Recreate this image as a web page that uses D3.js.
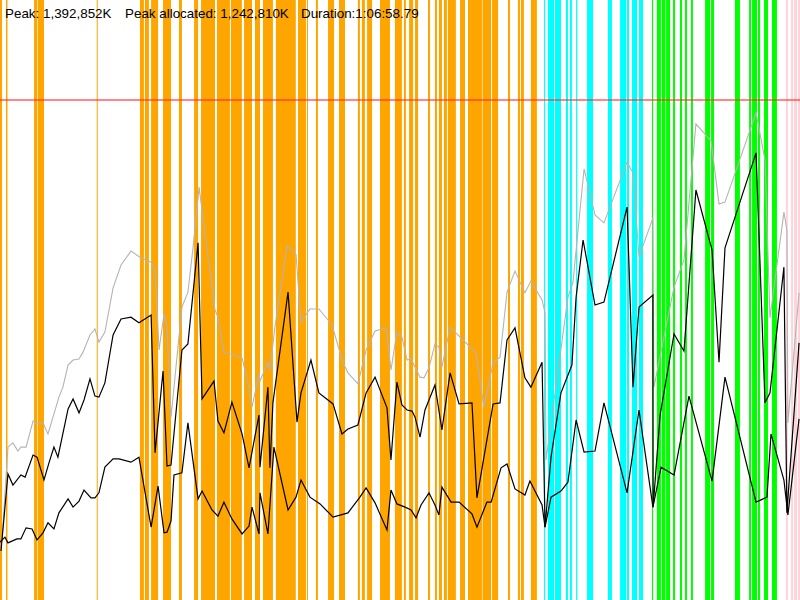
<!DOCTYPE html>
<html>
<head>
<meta charset="utf-8">
<script src="https://cdn.jsdelivr.net/npm/d3@7"></script>
<style>
  body { margin: 0; background: #fff; }
  svg { display: block; }
</style>
</head>
<body>
<div id="chart"></div>
<script>
const WIDTH = 800;
const HEIGHT = 600;

// run length in seconds (1:06:58.79)
const durationSec = 4018.79;
const maxHeapMB = 1400;

// gc pauses: [start sec, length sec]
const youngGC = [
  [0, 10], [30, 7.5], [171, 15], [189, 32], [486, 5], [703, 20], [728, 20], [759, 35],
  [819, 40], [899, 15], [975, 20], [1010, 70], [1090, 65], [1160, 55], [1226, 40],
  [1281, 25], [1321, 50], [1386, 100], [1497, 40], [1542, 5], [1587, 10], [1648, 30],
  [1703, 30], [1798, 10], [1818, 15], [1844, 25], [1909, 50], [1984, 35], [2029, 10],
  [2055, 20], [2085, 15], [2150, 10], [2185, 10], [2205, 15], [2230, 15], [2250, 40],
  [2311, 25], [2351, 70], [2424, 43], [2472, 30], [2552, 10], [2602, 10], [2617, 15],
  [2667, 30]
];
const mixedGC = [
  [2733, 6], [2753, 30], [2788, 30], [2843, 10], [2863, 10], [2894, 6], [2949, 30],
  [3054, 20], [3115, 30], [3150, 10], [3175, 25], [3210, 20]
];
const concurrentGC = [
  [3275, 6], [3300, 20], [3324, 19], [3346, 20], [3381, 10], [3416, 10], [3441, 10],
  [3471, 10], [3542, 25], [3572, 15], [3692, 25], [3763, 10], [3778, 25], [3808, 10],
  [3838, 20], [3878, 25]
];
const fullGC = [
  [3948, 10], [3974, 10], [3989, 15], [4009, 10]
];

// heap size (MB) over time: [sec, MB]
const heapTotal = [
  [10, 168], [40, 428], [65, 440], [90, 417], [105, 428], [131, 428], [166, 501], [186, 496],
  [216, 496], [241, 465], [296, 568], [316, 596], [342, 658], [367, 672], [397, 675], [417, 694],
  [452, 742], [477, 759], [497, 722], [527, 750], [568, 874], [608, 938], [658, 977], [703, 960],
  [759, 946], [779, 924], [799, 700], [824, 801], [839, 764], [859, 512], [914, 820], [944, 862],
  [970, 988], [1000, 1156], [1080, 812], [1095, 792], [1125, 692], [1160, 689], [1216, 678],
  [1246, 608], [1266, 540], [1301, 633], [1306, 613], [1346, 666], [1356, 644], [1381, 764],
  [1442, 991], [1487, 969], [1512, 778], [1557, 815], [1602, 815], [1668, 770], [1723, 664],
  [1748, 636], [1798, 605], [1839, 700], [1884, 753], [1939, 762], [1964, 644], [1994, 750],
  [2019, 736], [2045, 672], [2065, 675], [2110, 624], [2130, 622], [2155, 650], [2185, 717],
  [2205, 708], [2220, 652], [2261, 764], [2391, 692], [2431, 540], [2477, 664], [2512, 680],
  [2547, 862], [2587, 921], [2637, 860], [2667, 893], [2723, 840], [2738, 804], [2743, 392],
  [2853, 848], [2878, 888], [2934, 1207], [2989, 1078], [3034, 1056], [3150, 1226], [3180, 1196],
  [3210, 960], [3280, 1070], [3285, 596], [3386, 876], [3436, 952], [3496, 1333], [3572, 1285],
  [3612, 1109], [3642, 1114], [3798, 1364], [3843, 1232], [3868, 790], [3938, 1086], [3953, 1036],
  [3958, 496], [4014, 860]
];
const usedBefore = [
  [5, 137], [40, 353], [65, 322], [105, 350], [126, 344], [166, 406], [186, 400], [221, 336],
  [246, 384], [271, 428], [291, 400], [342, 535], [367, 563], [397, 524], [422, 560], [452, 619],
  [477, 571], [497, 568], [527, 608], [568, 742], [608, 787], [658, 792], [698, 776], [759, 798],
  [779, 412], [819, 641], [839, 375], [859, 378], [914, 700], [944, 717], [995, 1000], [1015, 563],
  [1075, 613], [1095, 501], [1125, 468], [1165, 554], [1216, 465], [1251, 370], [1301, 518],
  [1306, 372], [1346, 596], [1356, 370], [1371, 552], [1447, 862], [1492, 498], [1512, 580],
  [1562, 672], [1602, 580], [1673, 549], [1718, 465], [1748, 479], [1798, 490], [1839, 580],
  [1884, 624], [1944, 538], [1964, 392], [1994, 610], [2019, 546], [2045, 532], [2070, 529],
  [2085, 512], [2110, 456], [2135, 532], [2185, 602], [2220, 476], [2261, 636], [2306, 549],
  [2371, 552], [2396, 286], [2477, 549], [2512, 552], [2547, 728], [2587, 762], [2637, 622],
  [2667, 596], [2723, 666], [2738, 204], [2768, 400], [2818, 580], [2873, 658], [2894, 848],
  [2929, 1008], [2989, 826], [3034, 834], [3150, 1100], [3180, 596], [3210, 820], [3280, 854],
  [3281, 260], [3316, 518], [3386, 745], [3436, 697], [3496, 1148], [3577, 980], [3612, 666],
  [3642, 986], [3798, 1252], [3843, 552], [3868, 580], [3938, 932], [3953, 244], [4014, 720]
];
const usedAfter = [
  [0, 162], [25, 176], [40, 160], [85, 171], [105, 171], [131, 202], [161, 199], [186, 168],
  [216, 188], [241, 216], [271, 199], [296, 244], [342, 283], [367, 260], [397, 277], [422, 308],
  [457, 286], [477, 286], [497, 300], [527, 372], [568, 395], [598, 395], [658, 386], [698, 400],
  [759, 204], [794, 319], [824, 188], [839, 190], [859, 221], [874, 350], [914, 356], [944, 496],
  [995, 283], [1015, 305], [1065, 252], [1095, 235], [1125, 274], [1165, 227], [1216, 185],
  [1251, 207], [1266, 260], [1301, 185], [1306, 300], [1346, 185], [1376, 428], [1447, 252],
  [1487, 288], [1512, 336], [1557, 288], [1608, 269], [1673, 232], [1748, 244], [1808, 288],
  [1839, 314], [1884, 272], [1944, 196], [1964, 308], [1994, 269], [2035, 260], [2065, 252],
  [2090, 230], [2115, 266], [2155, 300], [2185, 266], [2205, 238], [2220, 316], [2266, 274],
  [2306, 274], [2371, 241], [2396, 204], [2446, 274], [2467, 274], [2517, 370], [2547, 381],
  [2587, 311], [2637, 294], [2662, 333], [2723, 266], [2738, 204], [2768, 288], [2818, 305],
  [2853, 330], [2894, 504], [2934, 414], [2989, 417], [3034, 552], [3150, 300], [3210, 532],
  [3280, 260], [3321, 372], [3386, 350], [3461, 571], [3577, 333], [3642, 624], [3798, 274],
  [3853, 288], [3873, 465], [3938, 336], [3958, 238], [4014, 507]
];

const labels = ["Peak: 1,392,852K", "Peak allocated: 1,242,810K", "Duration:1:06:58.79"];

const svg = d3.select("#chart")
  .append("svg")
  .attr("width", WIDTH)
  .attr("height", HEIGHT);

const x = d3.scaleLinear().domain([0, durationSec]).range([0, WIDTH]);
const y = d3.scaleLinear().domain([0, maxHeapMB * 1.2]).range([HEIGHT, 0]);

const bandSets = [
  { data: youngGC, color: "#ffa500", opacity: 1 },
  { data: mixedGC, color: "#00ffff", opacity: 1 },
  { data: concurrentGC, color: "#00ff00", opacity: 1 },
  { data: fullGC, color: "#ffc0cb", opacity: 0.7 }
];

bandSets.forEach((set) => {
  svg.append("g")
    .selectAll("rect")
    .data(set.data)
    .enter()
    .append("rect")
    .attr("x", (d) => x(d[0]))
    .attr("y", 0)
    .attr("width", (d) => x(d[0] + d[1]) - x(d[0]))
    .attr("height", HEIGHT)
    .attr("fill", set.color)
    .attr("fill-opacity", set.opacity);
});

// heap limit
svg.append("line")
  .attr("x1", 0)
  .attr("x2", WIDTH)
  .attr("y1", y(maxHeapMB))
  .attr("y2", y(maxHeapMB))
  .attr("stroke", "#ff2a2a")
  .attr("stroke-opacity", 0.75)
  .attr("stroke-width", 1.5);

const line = d3.line()
  .x((d) => x(d[0]))
  .y((d) => y(d[1]));

svg.append("path")
  .datum(heapTotal)
  .attr("d", line)
  .attr("fill", "none")
  .attr("stroke", "#b4b4b4")
  .attr("stroke-width", 1.1);

[usedBefore, usedAfter].forEach((series) => {
  svg.append("path")
    .datum(series)
    .attr("d", line)
    .attr("fill", "none")
    .attr("stroke", "#000")
    .attr("stroke-width", 1.2)
    .attr("stroke-linejoin", "miter");
});

const labelX = [5, 125, 301];
svg.append("g")
  .selectAll("text")
  .data(labels)
  .enter()
  .append("text")
  .attr("x", (d, i) => labelX[i])
  .attr("y", 18)
  .text((d) => d)
  .attr("fill", "#000")
  .style("font-family", "'Liberation Sans', Arial, sans-serif")
  .style("font-size", "13.4px");
</script>
</body>
</html>
